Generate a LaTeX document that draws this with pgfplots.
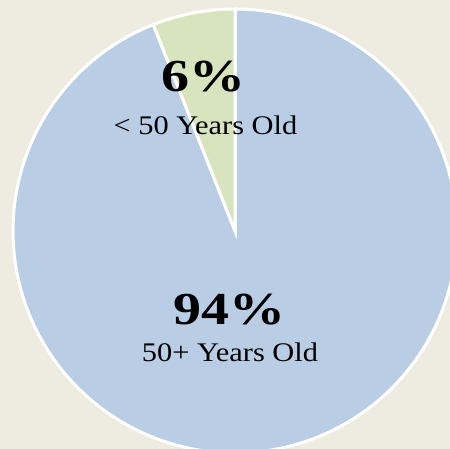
\documentclass[border=0pt]{standalone}
\usepackage{pgfplots}
\pgfplotsset{compat=1.18}
\usepackage{fontspec}
\setmainfont{Liberation Serif}
\newfontfamily\labfont[FakeStretch=1.13]{Liberation Serif}
\newfontfamily\pctfont[FakeStretch=1.22]{Liberation Serif Bold}
\definecolor{bgc}{HTML}{EEEBE0}
\definecolor{blueslice}{HTML}{B9CDE5}
\definecolor{greenslice}{HTML}{D7E4BD}
% shares in percent
\def\shareYoung{6}
\def\shareOld{94}
\begin{document}
\begin{tikzpicture}
\pgfmathsetmacro{\aStart}{90}
\pgfmathsetmacro{\aMid}{90+3.6*\shareYoung}
\pgfmathsetmacro{\aEnd}{90+360}
\begin{axis}[
  width=450bp, height=449bp, scale only axis,
  xmin=-1.0586, xmax=0.9685, ymin=-0.9820, ymax=1.0405,
  hide axis, clip=true,
  axis background/.style={fill=bgc},
]
\addplot[fill=blueslice, draw=white, line width=3bp, domain=\aMid:\aEnd, samples=200]
  ({cos(x)},{sin(x)}) -- (axis cs:0,0) -- cycle;
\addplot[fill=greenslice, draw=white, line width=3bp, domain=\aStart:\aMid, samples=30]
  ({cos(x)},{sin(x)}) -- (axis cs:0,0) -- cycle;
\node[font=\fontsize{46}{50}\pctfont] at (axis cs:-0.142,0.694) {\shareYoung\%};
\node[font=\fontsize{27}{30}\labfont] at (axis cs:-0.133,0.474) {< 50 Years Old};
\node[font=\fontsize{46}{50}\pctfont] at (axis cs:-0.025,-0.356) {\shareOld\%};
\node[font=\fontsize{27}{30}\labfont] at (axis cs:-0.0225,-0.547) {50+ Years Old};
\end{axis}
\end{tikzpicture}
\end{document}
